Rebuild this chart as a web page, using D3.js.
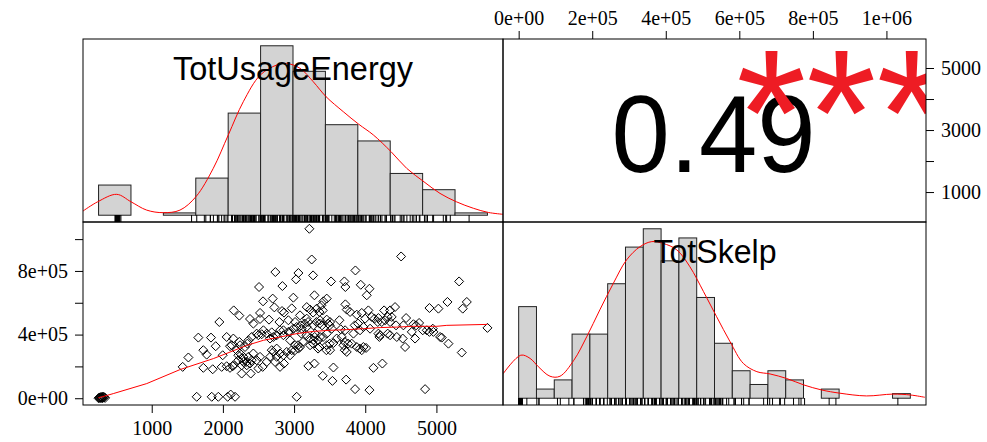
<!doctype html>
<html>
<head>
<meta charset="utf-8">
<script src="https://cdnjs.cloudflare.com/ajax/libs/d3/7.8.5/d3.min.js"></script>
<style>
  body { margin: 0; background: #fff; }
  svg { display: block; }
  .tick text { font-family: "Liberation Serif", serif; font-size: 20px; fill: #000; }
  .tick line { stroke: #000; }
</style>
</head>
<body>
<svg width="987" height="442"></svg>
<script>
// TotUsageEnergy vs TotSkelp (TotSkelp in thousands)
const scatter = [
  [3215,1065],[3248,872],[4504,891],[2737,793],[3061,787],[3862,803],[3028,747],[3267,772],[2508,699],[2836,705],
  [3520,734],[3707,734],[3721,699],[3937,713],[4059,688],[4021,647],[5319,734],[3286,647],[2990,632],[2700,626],
  [2564,609],[3459,626],[3412,609],[2723,571],[5155,605],[5427,605],[5370,563],[3721,590],[3740,557],[3787,542],
  [2152,552],[2231,519],[1950,479],[2522,536],[2381,498],[2522,498],[2648,494],[2831,548],[2859,538],[2967,565],
  [3178,573],[3225,557],[3318,563],[3356,542],[3403,552],[3084,521],[3178,500],[2920,490],[2794,479],[3014,479],
  [3365,490],[3459,494],[3506,479],[3637,490],[3881,525],[3951,536],[3998,500],[4044,552],[4091,511],[4185,504],
  [4265,552],[4349,552],[4419,573],[4279,490],[4232,479],[4372,511],[4574,504],[4536,458],[4677,465],[4757,473],
  [5028,563],[4433,458],
  [2053,385],[2147,375],[2124,333],[2100,327],[2231,354],[2311,322],[2344,343],[2428,469],[2475,406],[2569,427],
  [2545,402],[2616,406],[2686,414],[2709,385],[2803,427],[2850,396],[2920,417],[2944,364],[3037,448],[3107,437],
  [3178,448],[3272,458],[3295,406],[3365,385],[3459,406],[3529,437],[3599,375],[3670,385],[3717,427],[3834,406],
  [3927,427],[3974,448],[4068,437],[4185,406],[4209,396],[4349,396],[4443,385],[4527,375],[4654,417],[4700,375],
  [4864,427],[4958,417],[5052,385],[5075,381],[5169,343],[5717,442],
  [1655,381],[1833,381],[1899,327],[1725,302],[1772,274],[1515,256],[1435,197],[1725,191],[1857,182],[1997,270],
  [1983,197],[2053,201],[2138,201],
  [2194,302],[2241,281],[2288,260],[2217,239],[2335,228],[2264,207],[2381,218],[2428,281],[2522,260],[2475,239],
  [2559,197],[2498,187],[2616,228],[2686,302],[2756,260],[2803,197],[2859,218],[2944,270],[3014,302],[3084,322],
  [3225,333],[3272,364],[3356,322],[3459,333],[3506,302],[3553,347],[3693,333],[3740,291],[3810,343],[3881,322],
  [3951,302],[3974,322],[3201,203],[3286,218],[3553,193],[3403,141],[3539,109],[3731,117],[3857,57],[4059,51],
  [4115,191],[4241,218],[4841,57],[5356,287],[2264,155],[2391,155],[4560,322],
  [3384,584],[3267,538],[3150,469],[3197,479],[3094,458],[3314,479],[3360,469],[3393,458],[3478,469],[3501,458],
  [3656,433],[3852,458],[3899,469],[3103,406],[3173,396],[3220,375],[3290,385],[3337,364],[3407,385],[3056,333],
  [3126,354],[3267,343],[3501,343],[3712,354],[3759,343],[3923,312],[3712,302],[3337,312],[3454,302],
  [2241,333],[2358,364],[2405,385],[2498,396],[2662,375],[2756,396],[2850,427],[2944,417],[2990,437],[2217,270],
  [2264,249],[2288,228],[2358,260],[2335,207],[2405,239],[2662,260],[2709,291],[2756,312],[2803,281],[2850,270],
  [2897,291],[2967,302],[3014,333],[3061,312],[2733,228],[2147,207],[2100,191],
  [4902,567],[4176,479],[4316,511],[4349,479],[4129,500],[4199,385],[4316,406],[4714,458],[4808,427],[4902,417],
  [4949,437],[4012,316],
  [1632,9],[1843,9],[1936,9],[2067,9],[2110,23],[2171,9],[3037,9],
  [253,0],[262,4],[270,2],[278,6],[285,1],[290,8],[295,3],[300,5],[308,0],[315,10],[322,4],[330,7],[345,2]
];

const energyBreaks = [0,500,1000,1500,2000,2500,3000,3500,4000,4500,5000,5500,6000];
const energyCounts = [13,0,1,16,44,73,62,39,32,18,11,1];
const skelpBreaks = [0,50,100,150,200,250,300,350,400,450,500,550,600,650,700,750,800,850,900,950,1000,1050,1100];
const skelpCounts = [20,2,4,14,14,25,33,37,30,35,22,12,6,3,6,4,0,2,0,0,0,1];

// kernel density curves, in the histograms' count units
const energyDensity = [[-240,1.8],[-13,5.8],[280,9.0],[500,5.8],[743,2.2],[999,1.1],[1256,2.2],[1503,8.0],
  [1770,20.2],[2002,34.6],[2233,48.9],[2495,60.4],[2748,64.7],[2903,65.4],[3108,63.3],[3313,57.5],[3509,51.1],
  [3776,44.6],[4014,39.2],[4239,34.6],[4512,27.4],[4754,20.2],[5021,14.4],[5268,9.4],[5520,5.8],[5782,3.0],
  [6013,1.2],[6240,0.4]];
const skelpDensity = [[-43,5.4],[6,9.4],[32,8.7],[55,6.9],[88,4.8],[116,4.8],[155,8.3],[191,13.4],[228,19.3],
  [266,25.1],[303,30.2],[341,33.1],[374,34.2],[406,33.8],[444,32.4],[481,28.7],[519,23.3],[556,17.8],[594,12.3],
  [631,7.6],[669,5.8],[706,5.3],[753,4.3],[801,2.9],[851,1.8],[902,1.1],[977,0.5],[1050,0.9],[1101,0.7],[1141,0.2]];

// smoother in the scatter panel
const smooth = [[249,2],[460,29],[930,92],[1398,180],[1866,249],[2100,290],[2335,332],[2569,364],[2803,385],
  [3038,406],[3271,420],[3506,427],[3741,431],[3974,437],[4209,444],[4443,447],[4677,452],[5006,452],[5146,458],[5717,464]];

const energyTicks = [1000,2000,3000,4000,5000];
const skelpTicks = [0,200,400,600,800,1000];
const corrText = "0.49";
const signifText = "***";
const labels = ["TotUsageEnergy", "TotSkelp"];

const svg = d3.select("svg");
const L = 83, Mx = 503, R = 926, T = 39, My = 222, B = 405;

function pad(lo, hi) { const r = hi - lo; return [lo - 0.04 * r, hi + 0.04 * r]; }

const eExt = d3.extent(scatter, d => d[0]);
const sExt = d3.extent(scatter, d => d[1]);
const xE = d3.scaleLinear().domain(pad(...eExt)).range([L, Mx]);
const yE = d3.scaleLinear().domain(pad(...eExt)).range([My, T]);
const xS = d3.scaleLinear().domain(pad(...sExt)).range([Mx, R]);
const yS = d3.scaleLinear().domain(pad(...sExt)).range([B, My]);

// histogram scales (each histogram has its own coordinates)
const hxE = d3.scaleLinear().domain(pad(energyBreaks[0], energyBreaks[energyBreaks.length - 1])).range([L, Mx]);
const hyE = d3.scaleLinear().domain(pad(0, d3.max(energyCounts))).range([My, T]);
const hxS = d3.scaleLinear().domain(pad(skelpBreaks[0], skelpBreaks[skelpBreaks.length - 1])).range([Mx, R]);
const hyS = d3.scaleLinear().domain(pad(0, d3.max(skelpCounts))).range([B, My]);

const defs = svg.append("defs");
function clip(id, x0, y0, x1, y1) {
  defs.append("clipPath").attr("id", id).append("rect")
    .attr("x", x0).attr("y", y0).attr("width", x1 - x0).attr("height", y1 - y0);
  return svg.append("g").attr("clip-path", `url(#${id})`);
}

function drawHist(g, breaks, counts, hx, hy, dens, values) {
  g.selectAll("rect.bar").data(counts).enter().append("rect")
    .attr("class", "bar")
    .attr("x", (d, i) => hx(breaks[i]))
    .attr("width", (d, i) => hx(breaks[i + 1]) - hx(breaks[i]))
    .attr("y", d => hy(d))
    .attr("height", d => hy(0) - hy(d))
    .attr("fill", "#d3d3d3").attr("stroke", "#222").attr("stroke-width", 1);
  g.append("path").datum(dens)
    .attr("d", d3.line().x(d => hx(d[0])).y(d => hy(d[1])).curve(d3.curveCatmullRom))
    .attr("fill", "none").attr("stroke", "red").attr("stroke-width", 1);
  const y1 = hy.range()[0];
  g.selectAll("line.rug").data(values).enter().append("line")
    .attr("class", "rug")
    .attr("x1", d => hx(d)).attr("x2", d => hx(d))
    .attr("y1", y1).attr("y2", y1 - 7)
    .attr("stroke", "#000").attr("stroke-width", 1);
}

// top-left: TotUsageEnergy histogram
drawHist(clip("cTL", L, T, Mx, My), energyBreaks, energyCounts, hxE, hyE, energyDensity, scatter.map(d => d[0]));
// bottom-right: TotSkelp histogram
drawHist(clip("cBR", Mx, My, R, B), skelpBreaks, skelpCounts, hxS, hyS, skelpDensity, scatter.map(d => d[1]));

// bottom-left: scatter with smoother
const gBL = clip("cBL", L, My, Mx, B);
gBL.selectAll("path.pt").data(scatter).enter().append("path")
  .attr("class", "pt")
  .attr("transform", d => `translate(${xE(d[0])},${yS(d[1])})`)
  .attr("d", "M0,-4.5L4.5,0L0,4.5L-4.5,0Z")
  .attr("fill", "none").attr("stroke", "#000").attr("stroke-width", 1);
gBL.append("path").datum(smooth)
  .attr("d", d3.line().x(d => xE(d[0])).y(d => yS(d[1])))
  .attr("fill", "none").attr("stroke", "red").attr("stroke-width", 1);

// top-right: correlation
const gTR = clip("cTR", Mx, T, R, My);
gTR.append("text").text(corrText)
  .attr("x", (Mx + R) / 2 - 1).attr("y", 171.5)
  .attr("text-anchor", "middle")
  .attr("textLength", 204).attr("lengthAdjust", "spacingAndGlyphs")
  .style("font-family", "'Liberation Sans', Arial, sans-serif").style("font-size", "110px");
gTR.append("text").text(signifText)
  .attr("x", Mx + 0.8 * (R - Mx)).attr("y", 175)
  .attr("text-anchor", "middle")
  .style("font-family", "'Liberation Sans', Arial, sans-serif").style("font-size", "180px")
  .attr("fill", "#ee1c24");

// diagonal labels
svg.append("text").text(labels[0])
  .attr("x", (L + Mx) / 2).attr("y", 80)
  .attr("text-anchor", "middle")
  .attr("textLength", 240).attr("lengthAdjust", "spacingAndGlyphs")
  .style("font-family", "'Liberation Sans', Arial, sans-serif").style("font-size", "34px");
svg.append("text").text(labels[1])
  .attr("x", (Mx + R) / 2 + 0.5).attr("y", 262.7)
  .attr("text-anchor", "middle")
  .attr("textLength", 123).attr("lengthAdjust", "spacingAndGlyphs")
  .style("font-family", "'Liberation Sans', Arial, sans-serif").style("font-size", "34px");

// panel boxes
[[L, T, Mx, My], [Mx, T, R, My], [L, My, Mx, B], [Mx, My, R, B]].forEach(p => {
  svg.append("rect").attr("x", p[0]).attr("y", p[1])
    .attr("width", p[2] - p[0]).attr("height", p[3] - p[1])
    .attr("fill", "none").attr("stroke", "#000").attr("stroke-width", 1);
});

// axes
function fmtE(v) {
  if (v === 0) return "0e+00";
  const e = Math.floor(Math.log10(v));
  return `${Math.round(v / Math.pow(10, e))}e+${String(e).padStart(2, "0")}`;
}
svg.append("g").attr("transform", `translate(0,${T})`)
  .call(d3.axisTop(xS).tickValues(skelpTicks).tickSize(8).tickPadding(6).tickFormat(d => fmtE(d * 1000)))
  .call(g => g.select(".domain").remove());
svg.append("g").attr("transform", `translate(${R},0)`)
  .call(d3.axisRight(yE).tickValues(energyTicks).tickSize(8).tickPadding(7)
    .tickFormat(d => (d / 1000) % 2 === 1 ? String(d) : ""))
  .call(g => g.select(".domain").remove());
svg.append("g").attr("transform", `translate(${L},0)`)
  .call(d3.axisLeft(yS).tickValues(skelpTicks).tickSize(8).tickPadding(7)
    .tickFormat(d => d % 400 === 0 ? fmtE(d * 1000) : ""))
  .call(g => g.select(".domain").remove());
svg.append("g").attr("transform", `translate(0,${B})`)
  .call(d3.axisBottom(xE).tickValues(energyTicks).tickSize(8).tickPadding(8).tickFormat(d => String(d)))
  .call(g => g.select(".domain").remove());
</script>
</body>
</html>
